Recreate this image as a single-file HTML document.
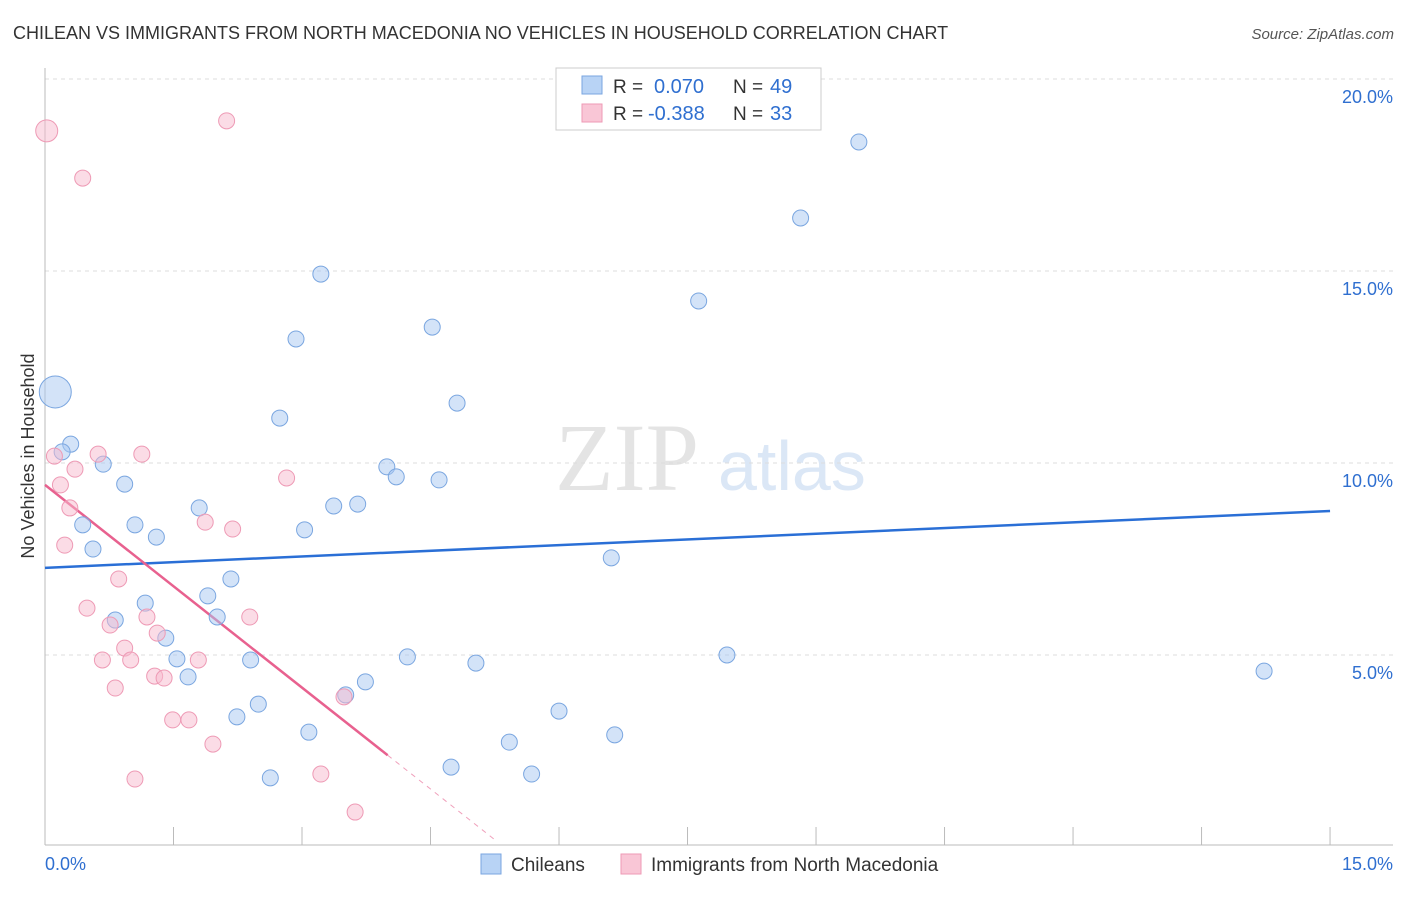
<!DOCTYPE html>
<html><head><meta charset="utf-8"><style>
body{margin:0;background:#fff;font-family:"Liberation Sans",sans-serif;}
svg text{font-family:"Liberation Sans",sans-serif;}
</style></head><body>
<svg id="chart" width="1406" height="892" xmlns="http://www.w3.org/2000/svg">
<text x="13" y="39" font-size="18" fill="#333">CHILEAN VS IMMIGRANTS FROM NORTH MACEDONIA NO VEHICLES IN HOUSEHOLD CORRELATION CHART</text>
<text x="1394" y="39" font-size="15" fill="#555" text-anchor="end" font-style="italic">Source: ZipAtlas.com</text>
<text transform="translate(34,456) rotate(-90)" font-size="18" fill="#333" text-anchor="middle">No Vehicles in Household</text>
<g>
<text x="555" y="490" font-size="96" fill="#e4e4e4" style="font-family:'Liberation Serif',serif">ZIP</text>
<text x="718" y="490" font-size="70" fill="#dbe7f6">atlas</text>
</g>
<g id="grid"></g><g id="axes"></g><g id="trend"></g><g id="pts"></g>
<g>
<rect x="556" y="68" width="265" height="62" fill="#fff" stroke="#ccc"/>
<rect x="582" y="76" width="20" height="18" fill="#b8d3f5" stroke="#7aa6e0"/>
<rect x="582" y="104" width="20" height="18" fill="#f9c6d6" stroke="#ee9ab5"/>
<text x="613" y="93" font-size="19" fill="#333">R =</text><text x="654" y="93" font-size="20" fill="#2f6fd0">0.070</text>
<text x="733" y="93" font-size="19" fill="#333">N =</text><text x="770" y="93" font-size="20" fill="#2f6fd0">49</text>
<text x="613" y="120" font-size="19" fill="#333">R =</text><text x="648" y="120" font-size="20" fill="#2f6fd0">-0.388</text>
<text x="733" y="120" font-size="19" fill="#333">N =</text><text x="770" y="120" font-size="20" fill="#2f6fd0">33</text>
</g>
<g>
<rect x="481" y="854" width="20" height="20" fill="#b8d3f5" stroke="#7aa6e0"/>
<text x="511" y="871" font-size="19" fill="#333">Chileans</text>
<rect x="621" y="854" width="20" height="20" fill="#f9c6d6" stroke="#ee9ab5"/>
<text x="651" y="871" font-size="19" fill="#333">Immigrants from North Macedonia</text>
</g>
</svg>
<script>
const blueX=[.12,.30,.20,.68,.93,.44,.56,1.05,1.30,1.80,1.17,.82,1.41,1.54,1.67,1.90,2.17,2.01,2.40,2.49,2.24,2.74,2.93,3.22,3.03,3.37,3.65,3.99,4.10,4.52,4.81,4.60,3.51,3.74,3.08,2.63,4.23,4.74,5.03,5.42,5.68,6.00,6.65,6.61,7.63,7.96,8.82,9.50,14.23];
const blueY=[11.85,10.49,10.29,9.97,9.45,8.39,7.76,8.39,8.07,8.83,6.35,5.91,5.44,4.90,4.43,6.54,6.98,5.99,4.87,3.72,3.39,11.17,13.23,14.92,8.26,8.88,8.93,9.90,9.64,13.54,11.56,9.56,3.96,4.30,2.99,1.80,4.95,2.08,4.79,2.73,1.90,3.54,2.92,7.53,14.22,5.00,16.38,18.36,4.58];
const pinkX=[.02,2.12,.44,.11,.18,.35,.29,.62,1.13,.23,.86,.49,.76,1.19,.93,1.31,.67,1.00,.82,1.28,1.39,1.79,1.87,2.19,2.82,2.39,1.49,1.68,1.96,1.05,3.22,3.49,3.62];
const pinkY=[18.65,18.91,17.42,10.18,9.43,9.84,8.83,10.23,10.23,7.86,6.98,6.22,5.78,5.99,5.18,5.57,4.87,4.87,4.14,4.45,4.40,4.87,8.46,8.28,9.61,5.99,3.31,3.31,2.68,1.77,1.90,3.91,0.91];
const yTicks=[5,10,15,20];
const yTickLabels=["5.0%","10.0%","15.0%","20.0%"];
const blueTrend=[7.27,8.75];
const pinkTrend=[9.43,-1.76];
const NS="http://www.w3.org/2000/svg";
const sx=v=>45+v*85.67, sy=v=>847-v*38.4;
function mk(p,t,a){const e=document.createElementNS(NS,t);for(const k in a)e.setAttribute(k,a[k]);document.getElementById(p).appendChild(e);return e;}
yTicks.forEach((t,i)=>{
 const l=mk('grid','line',{x1:45,x2:1393,y1:sy(t),y2:sy(t),stroke:'#ddd','stroke-dasharray':'4,4'});
 
 
 const tx=mk('grid','text',{x:1393,y:sy(t)+24,'font-size':18,fill:'#2f6fd0','text-anchor':'end'});
 tx.textContent=yTickLabels[i];
 
 
});
const topGrid=mk('grid','line',{x1:45,x2:1393,y1:79,y2:79,stroke:'#ddd','stroke-dasharray':'4,4'});


const ax=mk('axes','line',{x1:45,x2:45,y1:68,y2:845,stroke:'#bbb'});


const bx=mk('axes','line',{x1:45,x2:1393,y1:845,y2:845,stroke:'#bbb'});


for(let i=0;i<=10;i++){const t=mk('axes','line',{x1:sx(i*1.5),x2:sx(i*1.5),y1:827,y2:845,stroke:'#bbb'});
 
 }
const xl=mk('axes','text',{x:45,y:870,'font-size':18,fill:'#2f6fd0'});xl.textContent='0.0%';


const xr=mk('axes','text',{x:1393,y:870,'font-size':18,fill:'#2f6fd0','text-anchor':'end'});xr.textContent='15.0%';


const bl=mk('trend','line',{x1:sx(0),y1:sy(blueTrend[0]),x2:sx(15),y2:sy(blueTrend[1]),stroke:'#2a6fd6','stroke-width':2.5});


const pe=4.0,pd=5.25;
const pl=mk('trend','line',{x1:sx(0),y1:sy(pinkTrend[0]),x2:sx(pe),y2:sy(pinkTrend[0]+pinkTrend[1]*pe),stroke:'#e8618f','stroke-width':2.5});


const pdl=mk('trend','line',{x1:sx(pe),y1:sy(pinkTrend[0]+pinkTrend[1]*pe),x2:sx(pd),y2:sy(pinkTrend[0]+pinkTrend[1]*pd),stroke:'#f0a0bb','stroke-width':1,'stroke-dasharray':'5,5'});


blueX.forEach((x,i)=>{const c=mk('pts','circle',{cx:sx(x),cy:sy(blueY[i]),r:i===0?16:8,fill:'rgba(168,200,242,0.5)',stroke:'#7aa6e0','stroke-width':1});
 
 });
pinkX.forEach((x,i)=>{const c=mk('pts','circle',{cx:sx(x),cy:sy(pinkY[i]),r:i===0?11:8,fill:'rgba(247,185,205,0.5)',stroke:'#ee9ab5','stroke-width':1});
 
 });
</script>
</body></html>
